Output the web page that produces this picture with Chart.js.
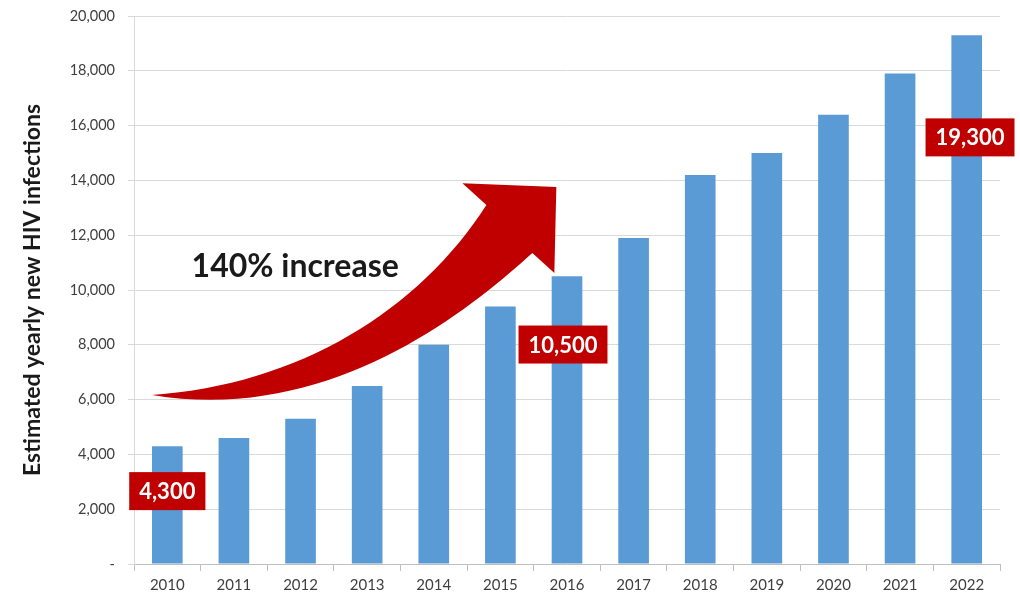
<!DOCTYPE html>
<html>
<head>
<meta charset="utf-8">
<script src="https://cdn.jsdelivr.net/npm/chart.js@4/dist/chart.umd.min.js"></script>
<style>
  html, body { margin: 0; padding: 0; background: #fff; }
  #wrap { width: 1020px; height: 599px; }
</style>
</head>
<body>
<div id="wrap"><canvas id="hivChart" width="1020" height="599"></canvas></div>
<script>
var years = ['2010', '2011', '2012', '2013', '2014', '2015', '2016', '2017', '2018', '2019', '2020', '2021', '2022'];
var infections = [4300, 4600, 5300, 6500, 8000, 9400, 10500, 11900, 14200, 15000, 16400, 17900, 19300];
var yTickValues = [0, 2000, 4000, 6000, 8000, 10000, 12000, 14000, 16000, 18000, 20000];

// red value callouts, placed by category index / value
var calloutText = ['4,300', '10,500', '19,300'];
var calloutIndex = [0, 5.94, 12.05];
var calloutValue = [2660, 8010, 15570];

// curved arrow outline in (category index, value) space
var arrowTail = [-0.23, 6170];
var arrowUpper = [[1.98, 6530], [3.78, 9270], [4.79, 13100]];
var arrowHead = [[4.43, 13900], [5.84, 13760], [5.81, 10620], [5.48, 11350]];
var arrowLower = [[4.54, 9270], [2.43, 5080], [-0.23, 6170]];
var arrowLabel = '140% increase';
var arrowLabelPos = [1.92, 10840];

var red = '#C00000';
var fontFamily = 'Lato, "Open Sans", sans-serif';

var annotations = {
  id: 'annotations',
  afterDatasetsDraw: function (chart) {
    var ctx = chart.ctx;
    var xs = chart.scales.x, ys = chart.scales.y;
    function P(p) { return [xs.getPixelForValue(p[0]), ys.getPixelForValue(p[1])]; }

    ctx.save();
    // arrow
    var t = P(arrowTail);
    ctx.beginPath();
    ctx.moveTo(t[0], t[1]);
    var u = arrowUpper.map(P);
    ctx.bezierCurveTo(u[0][0], u[0][1], u[1][0], u[1][1], u[2][0], u[2][1]);
    arrowHead.map(P).forEach(function (h) { ctx.lineTo(h[0], h[1]); });
    var l = arrowLower.map(P);
    ctx.bezierCurveTo(l[0][0], l[0][1], l[1][0], l[1][1], l[2][0], l[2][1]);
    ctx.closePath();
    ctx.fillStyle = red;
    ctx.fill();

    // arrow label
    var lp = P(arrowLabelPos);
    ctx.font = 'bold 32px ' + fontFamily;
    ctx.fillStyle = '#1a1a1a';
    ctx.textAlign = 'center';
    ctx.textBaseline = 'middle';
    ctx.fillText(arrowLabel, lp[0], lp[1]);

    // callout boxes
    ctx.font = 'bold 22px ' + fontFamily;
    for (var i = 0; i < calloutText.length; i++) {
      var c = P([calloutIndex[i], calloutValue[i]]);
      var w = ctx.measureText(calloutText[i]).width + 20;
      var h = 38;
      ctx.fillStyle = red;
      ctx.fillRect(c[0] - w / 2, c[1] - h / 2, w, h);
      ctx.fillStyle = '#fff';
      ctx.fillText(calloutText[i], c[0], c[1] + 1);
    }
    ctx.restore();
  }
};

var config = {
  type: 'bar',
  data: {
    labels: years,
    datasets: [{
      label: 'Estimated yearly new HIV infections',
      data: infections,
      backgroundColor: '#5B9BD5',
      borderWidth: 0,
      barPercentage: 0.46,
      categoryPercentage: 1
    }]
  },
  options: {
    responsive: false,
    animation: false,
    layout: { padding: { top: 16, right: 20, left: 0, bottom: 0 } },
    plugins: {
      legend: { display: false },
      tooltip: { enabled: false }
    },
    scales: {
      x: {
        grid: { display: true, drawOnChartArea: false, drawTicks: true, tickLength: 7, color: '#BFBFBF', offset: true },
        border: { display: true, color: '#BFBFBF' },
        ticks: { color: '#404040', font: { family: fontFamily, size: 15 }, padding: 5, maxRotation: 0 },
        afterFit: function (scale) { scale.height = 35; }
      },
      y: {
        min: 0,
        max: 20000,
        afterBuildTicks: function (scale) {
          scale.ticks = yTickValues.map(function (v) { return { value: v }; });
        },
        grid: { color: '#D9D9D9', tickLength: 6, drawTicks: true },
        border: { display: true, color: '#D9D9D9' },
        ticks: {
          color: '#404040',
          font: { family: fontFamily, size: 14.5 },
          padding: 13,
          callback: function (v) { return v === 0 ? '-' : v.toLocaleString('en-US'); }
        },
        title: {
          display: true,
          text: 'Estimated yearly new HIV infections',
          color: '#1a1a1a',
          font: { family: fontFamily, size: 23, weight: 'bold' },
          padding: { top: 19, bottom: 0 }
        },
        afterFit: function (scale) {
          scale.width = 134;
          scale.paddingTop = 0;
          scale.paddingBottom = 0;
        }
      }
    }
  },
  plugins: [annotations]
};

var hivChart = new Chart(document.getElementById('hivChart'), config);
</script>
</body>
</html>
